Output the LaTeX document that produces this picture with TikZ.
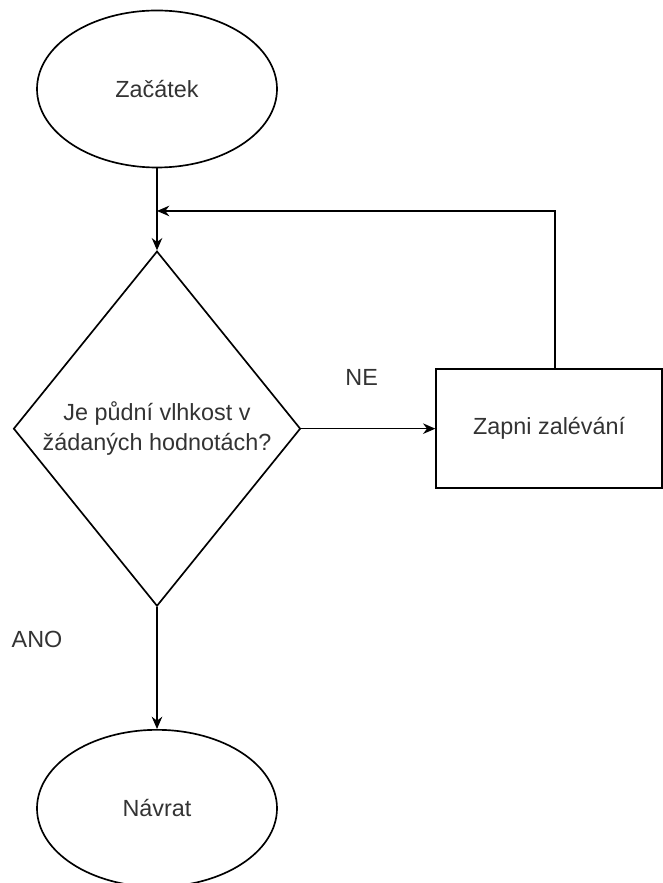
\documentclass[tikz,border=0pt]{standalone}
\usepackage{fontspec}
\setmainfont{Liberation Sans}
\usepackage{tikz}
\usetikzlibrary{arrows.meta,calc,positioning,shapes.geometric}
\definecolor{FlowText}{RGB}{51,51,51}

\begin{document}
\begin{tikzpicture}[>={Stealth[length=7pt,width=6pt]}, line width=0.95pt,
    every node/.style={font=\fontsize{13.3pt}{17pt}\selectfont, text=FlowText},
    terminal/.style={draw, ellipse, inner sep=0pt,
        minimum width=4.8cm, minimum height=3.14cm, align=center},
    decision/.style={draw, diamond, inner sep=0pt,
        minimum width=5.74cm, minimum height=7.1cm, align=center},
    action/.style={draw, rectangle, inner sep=0pt,
        minimum width=4.52cm, minimum height=2.38cm, align=center},
    branch/.style={inner sep=1pt}]
\useasboundingbox (0,0) rectangle (13.24,17.66);

\node[terminal] (start) at (3.14,15.88) {Začátek};
\node[decision, below=1.64cm of start] (check)
    {Je půdní vlhkost v\\žádaných hodnotách?};
\node[action, right=2.68cm of check] (water) {Zapni zalévání};
\node[terminal, below=2.44cm of check] (stop) {Návrat};

% popisky vetvi
\node[branch, above=0.82cm] (ne) at ($(check.east)!0.45!(water.west)$) {NE};
\node[branch] (ano) at ([xshift=-2.4cm, yshift=-0.64cm]check.south) {ANO};

\coordinate (join) at ($(start.south)!0.52!(check.north)$);

\draw[->] (start) -- (check);
\draw[->] (check) -- (water);
\draw[->] ([xshift=0.12cm]water.north) |- (join);
\draw[->] (check) -- (stop);
\end{tikzpicture}
\end{document}
